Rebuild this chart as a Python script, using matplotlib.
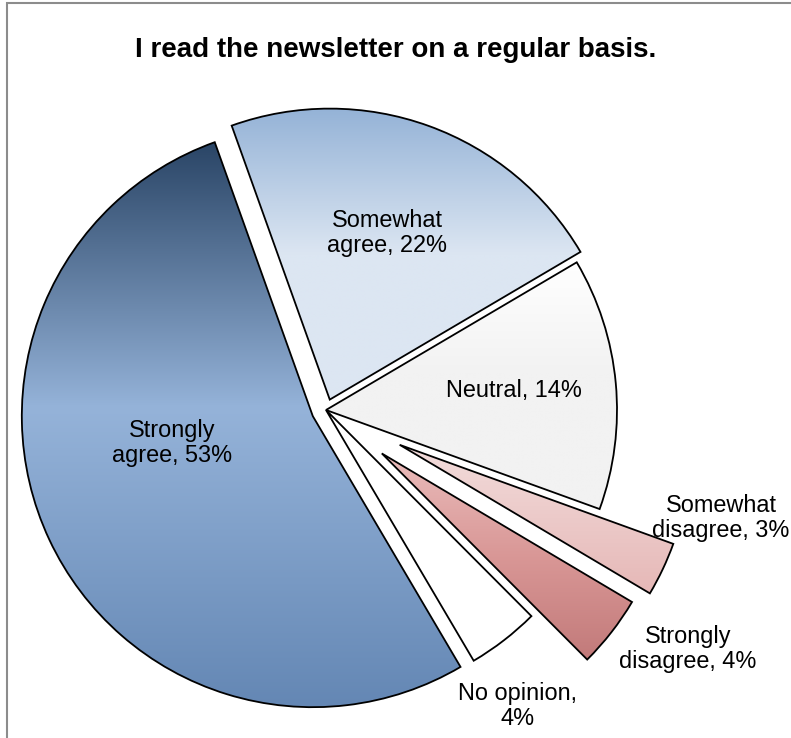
import numpy as np
import matplotlib
matplotlib.use("Agg")
import matplotlib.pyplot as plt
from matplotlib.colors import LinearSegmentedColormap
from matplotlib.patches import Rectangle

plt.rcParams['font.family'] = ['Liberation Sans', 'DejaVu Sans']

# survey answers, in pie order (clockwise)
categories = ["Strongly agree", "Somewhat agree", "Neutral",
              "Somewhat disagree", "Strongly disagree", "No opinion"]
shares = [53, 22, 14, 3, 4, 4]
label_fmt = ["Strongly\nagree, {}%", "Somewhat\nagree, {}%", "Neutral, {}%",
             "Somewhat\ndisagree, {}%", "Strongly\ndisagree, {}%", "No opinion,\n{}%"]
explode = [0.05, 0.038, 0.0, 0.28, 0.243, 0.0]   # as fraction of radius

# vertical gradients (top -> bottom) for each wedge
fills = [
    [(0.0, "#2a4566"), (0.47, "#95b3d9"), (1.0, "#6487b4")],
    [(0.0, "#95b3d7"), (0.5, "#dce6f2"), (1.0, "#dce6f2")],
    [(0.0, "#ffffff"), (0.45, "#f2f2f2"), (1.0, "#f2f2f2")],
    [(0.0, "#f2dcdb"), (1.0, "#e6b8b7")],
    [(0.0, "#eabcbb"), (0.5, "#d99796"), (1.0, "#c27a7a")],
    [(0.0, "#ffffff"), (1.0, "#ffffff")],
]

# label anchor points in figure pixels (y measured upward)
label_xy = [(172, 295), (387, 505), (514, 348), (721, 220), (688, 89), (518, 32)]

W, H = 791, 738
R = 291
fig = plt.figure(figsize=(W / 100, H / 100), dpi=100)
ax = fig.add_axes([0, 0, 1, 1])

wedges, _ = ax.pie(shares, explode=[e * R for e in explode], startangle=300.5,
                   counterclock=False, radius=R, center=(326, 328),
                   wedgeprops=dict(edgecolor="black", linewidth=1.3, facecolor="none"))

grad = np.linspace(0, 1, 256).reshape(-1, 1)
for w, stops in zip(wedges, fills):
    w.set_zorder(2)
    bb = w.get_path().get_extents()
    cmap = LinearSegmentedColormap.from_list("g", stops)
    im = ax.imshow(grad, cmap=cmap, vmin=0, vmax=1, origin="upper",
                   extent=(bb.x0, bb.x1, bb.y0, bb.y1), interpolation="bilinear",
                   aspect="auto", zorder=1)
    im.set_clip_path(w)

for fmt, v, (x, y) in zip(label_fmt, shares, label_xy):
    ax.text(x, y, fmt.format(v), ha="center", va="center", fontsize=16.9,
            linespacing=1.08, color="black", zorder=3)

fig.text(0.5, 1 - 50 / H, "I read the newsletter on a regular basis.",
         ha="center", va="center", fontsize=20, fontweight="bold")

# chart frame (runs off the right and bottom edges)
ax.add_patch(Rectangle((7, -100), 1000, H - 3 + 100, facecolor="none",
                       edgecolor="#8c8c8c", linewidth=1.5, zorder=4))

ax.set_xlim(0, W)
ax.set_ylim(0, H)
ax.set_aspect("equal")
ax.set_axis_off()

fig.savefig("out.png", dpi=100)
